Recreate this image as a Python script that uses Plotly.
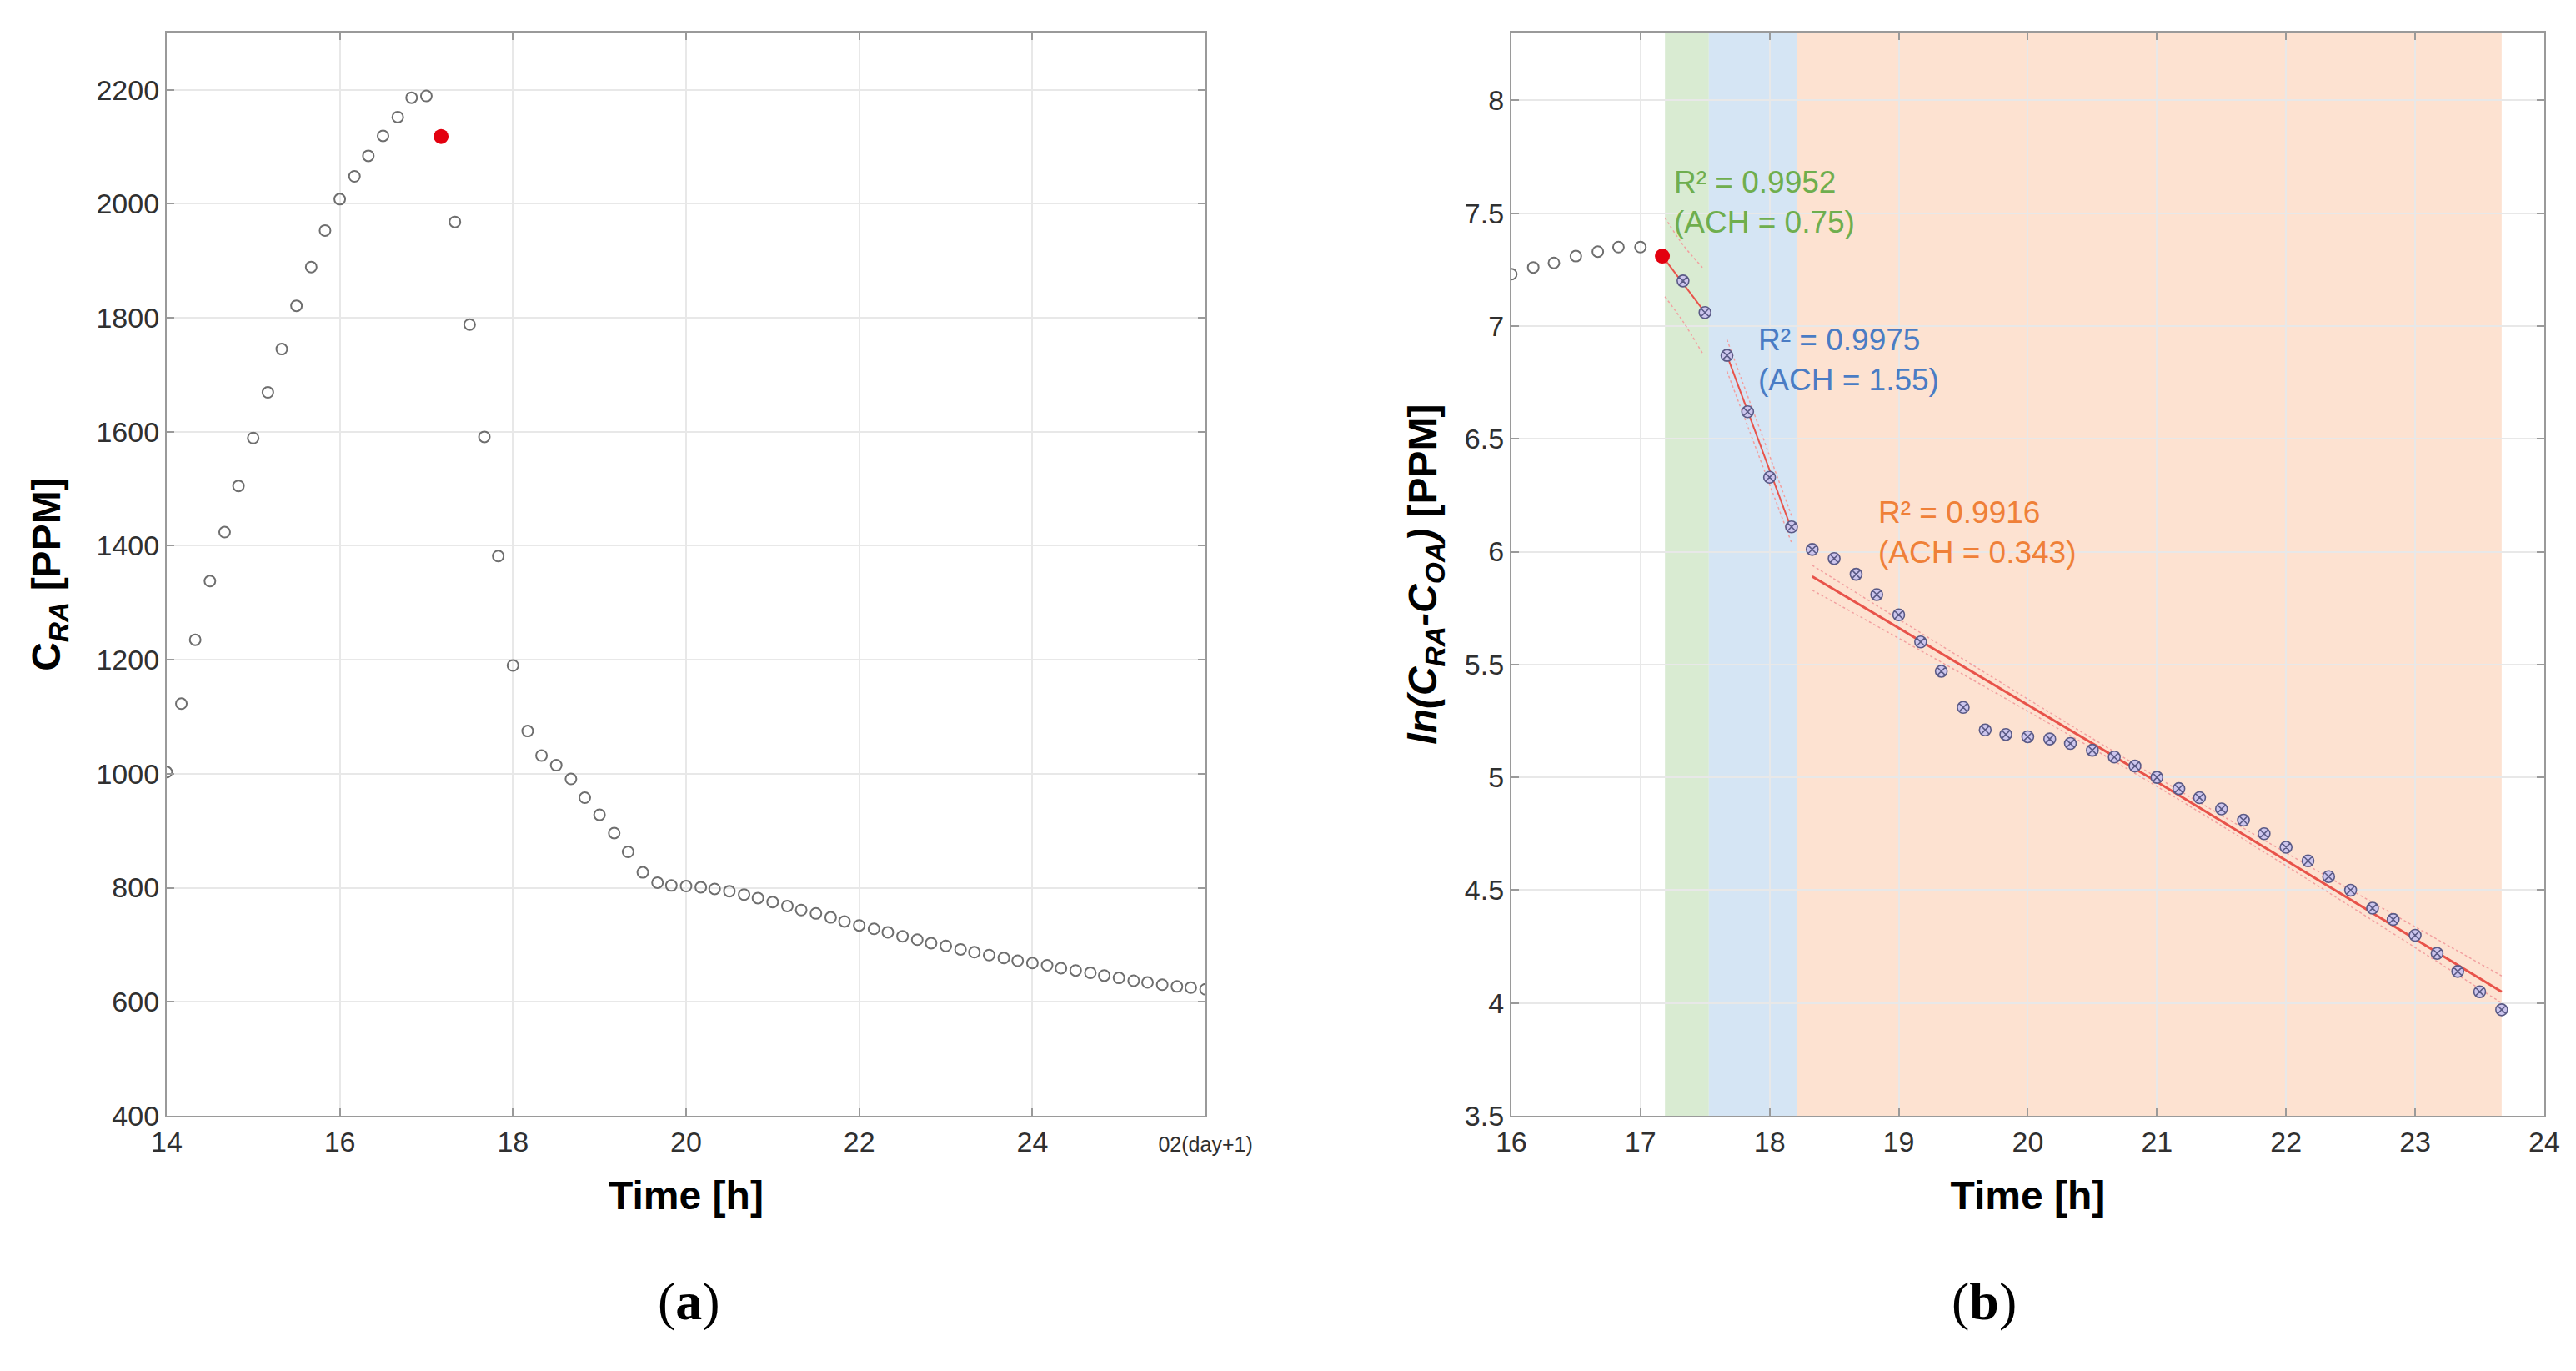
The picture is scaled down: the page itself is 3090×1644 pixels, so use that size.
import plotly.graph_objects as go

# ---- panel (a): indoor CO2 concentration ----
time_a = [14.0, 14.17, 14.33, 14.5, 14.67, 14.83, 15.0, 15.17, 15.33, 15.5, 15.67, 15.83,
          16.0, 16.17, 16.33, 16.5, 16.67, 16.83, 17.0, 17.17, 17.33, 17.5, 17.67, 17.83,
          18.0, 18.17, 18.33, 18.5, 18.67, 18.83, 19.0, 19.17, 19.33, 19.5, 19.67, 19.83,
          20.0, 20.17, 20.33, 20.5, 20.67, 20.83, 21.0, 21.17, 21.33, 21.5, 21.67, 21.83,
          22.0, 22.17, 22.33, 22.5, 22.67, 22.83, 23.0, 23.17, 23.33, 23.5, 23.67, 23.83,
          24.0, 24.17, 24.33, 24.5, 24.67, 24.83, 25.0, 25.17, 25.33, 25.5, 25.67, 25.83, 26.0]
c_ra = [1003, 1123, 1235, 1338, 1424, 1505, 1589, 1669, 1745, 1821, 1889, 1953,
        2008, 2048, 2084, 2119, 2152, 2186, 2189, 2118, 1968, 1788, 1591, 1382,
        1190, 1075, 1032, 1015, 991, 958, 928, 896, 863, 827, 809, 804,
        803, 801, 798, 794, 788, 782, 775, 768, 761, 755, 748, 741,
        734, 728, 722, 715, 709, 703, 698, 692, 687, 682, 677, 672,
        668, 664, 659, 655, 651, 646, 642, 637, 634, 630, 627, 625, 622]
peak_time = [17.17]
peak_c = [2118]
ticks_a = [14, 16, 18, 20, 22, 24, 26]
ticktext_a = ["14", "16", "18", "20", "22", "24",
              "<span style='font-size:25px'>02(day+1)</span>"]

# ---- panel (b): log decay ----
pre_time = [16.0, 16.17, 16.33, 16.5, 16.67, 16.83, 17.0]
pre_ln = [7.23, 7.26, 7.28, 7.31, 7.33, 7.35, 7.35]
start_ln = [7.31]
decay_time = [17.33, 17.5, 17.67, 17.83, 18.0, 18.17, 18.33, 18.5, 18.67, 18.83,
              19.0, 19.17, 19.33, 19.5, 19.67, 19.83, 20.0, 20.17, 20.33, 20.5,
              20.67, 20.83, 21.0, 21.17, 21.33, 21.5, 21.67, 21.83, 22.0, 22.17,
              22.33, 22.5, 22.67, 22.83, 23.0, 23.17, 23.33, 23.5, 23.67]
decay_ln = [7.20, 7.06, 6.87, 6.62, 6.33, 6.11, 6.01, 5.97, 5.90, 5.81,
            5.72, 5.60, 5.47, 5.31, 5.21, 5.19, 5.18, 5.17, 5.15, 5.12,
            5.09, 5.05, 5.00, 4.95, 4.91, 4.86, 4.81, 4.75, 4.69, 4.63,
            4.56, 4.50, 4.42, 4.37, 4.30, 4.22, 4.14, 4.05, 3.97]

# fitted lines and confidence bounds
fit1_x = [17.17, 17.5]
fit1_y = [7.31, 7.06]
fit1_x_b = [17.19, 17.33, 17.48]
fit1_up = [7.48, 7.36, 7.26]
fit1_lo = [7.13, 7.02, 6.88]
fit2_x = [17.67, 18.17]
fit2_y = [6.87, 6.10]
fit2_up = [6.94, 6.16]
fit2_lo = [6.80, 6.04]
fit3_x = [18.33, 21.0, 23.67]
fit3_y = [5.89, 4.98, 4.05]
fit3_up = [5.94, 5.00, 4.12]
fit3_lo = [5.83, 4.96, 4.00]

# shaded periods
periods = [(17.19, 17.53, "#d9ebd2"), (17.53, 18.21, "#d5e5f4"), (18.21, 23.67, "#fde2d1")]

labels = [(17.25, 7.55, "R² = 0.9952<br>(ACH = 0.75)", "#6fae4e"),
          (17.90, 6.85, "R² = 0.9975<br>(ACH = 1.55)", "#4a7cc4"),
          (18.83, 6.085, "R² = 0.9916<br>(ACH = 0.343)", "#ef8038")]

fig = go.Figure()

gray_circ = dict(symbol="circle-open", size=13, color="#6e6e6e", line=dict(width=2))

fig.add_trace(go.Scatter(x=time_a, y=c_ra, mode="markers", marker=gray_circ,
                         xaxis="x", yaxis="y", showlegend=False))
fig.add_trace(go.Scatter(x=peak_time, y=peak_c, mode="markers",
                         marker=dict(size=18, color="#e3000f"),
                         xaxis="x", yaxis="y", showlegend=False))

# confidence bounds
bound = dict(color="#f2a0a0", width=1.5, dash="dot")
for bx, up, lo in [(fit1_x_b, fit1_up, fit1_lo), (fit2_x, fit2_up, fit2_lo),
                   (fit3_x, fit3_up, fit3_lo)]:
    fig.add_trace(go.Scatter(x=bx, y=up, mode="lines", line=bound, line_shape="spline",
                             xaxis="x2", yaxis="y2", showlegend=False))
    fig.add_trace(go.Scatter(x=bx, y=lo, mode="lines", line=bound, line_shape="spline",
                             xaxis="x2", yaxis="y2", showlegend=False))

for fx, fy, w in [(fit1_x, fit1_y, 2), (fit2_x, fit2_y, 2), (fit3_x, fit3_y, 3)]:
    fig.add_trace(go.Scatter(x=fx, y=fy, mode="lines", line=dict(color="#e8534a", width=w),
                             xaxis="x2", yaxis="y2", showlegend=False))

fig.add_trace(go.Scatter(x=pre_time, y=pre_ln, mode="markers", marker=gray_circ,
                         xaxis="x2", yaxis="y2", showlegend=False))
fig.add_trace(go.Scatter(x=decay_time, y=decay_ln, mode="markers",
                         marker=dict(symbol="circle-x", size=14, color="#cdc6ee",
                                     line=dict(color="#5a5a86", width=1.6)),
                         xaxis="x2", yaxis="y2", showlegend=False))
fig.add_trace(go.Scatter(x=peak_time, y=start_ln, mode="markers",
                         marker=dict(size=18, color="#e3000f"),
                         xaxis="x2", yaxis="y2", showlegend=False))

shapes = []
for x0, x1, col in periods:
    shapes.append(dict(type="rect", xref="x2", yref="y2 domain", x0=x0, x1=x1, y0=0, y1=1,
                       fillcolor=col, line=dict(width=0), layer="below"))

annotations = []
for lx, ly, txt, col in labels:
    annotations.append(dict(x=lx, y=ly, xref="x2", yref="y2", text=txt, showarrow=False,
                            xanchor="left", yanchor="middle", align="left",
                            font=dict(size=37, color=col)))
annotations.append(dict(x=0.252, y=0.033, xref="paper", yref="paper", text="(<b>a</b>)",
                        showarrow=False, font=dict(size=64, family="Liberation Serif", color="black")))
annotations.append(dict(x=0.781, y=0.033, xref="paper", yref="paper", text="(<b>b</b>)",
                        showarrow=False, font=dict(size=64, family="Liberation Serif", color="black")))

axis_common = dict(showline=True, linecolor="#9a9a9a", linewidth=2, mirror="allticks",
                   ticks="inside", ticklen=9, tickcolor="#9a9a9a", tickwidth=2,
                   showgrid=True, gridcolor="#e8e8e8", gridwidth=1.5, zeroline=False,
                   automargin=False, tickfont=dict(size=34, color="#303030"))
title_font = dict(size=48, color="black")

fig.update_layout(
    width=3090, height=1644,
    margin=dict(l=0, r=0, t=0, b=0),
    paper_bgcolor="white", plot_bgcolor="white",
    font=dict(family="Liberation Sans, Arial, sans-serif"),
    xaxis=dict(domain=[0.0621, 0.4654], range=[14, 26], tickvals=ticks_a, ticktext=ticktext_a,
               title=dict(text="<b>Time [h]</b>", font=title_font, standoff=30),
               anchor="y", **axis_common),
    yaxis=dict(domain=[0.191, 0.981], range=[400, 2300], dtick=200,
               title=dict(text="<b>C<sub><i>RA</i></sub> [PPM]</b>", font=title_font, standoff=28),
               anchor="x", **axis_common),
    xaxis2=dict(domain=[0.5841, 0.9851], range=[16, 24], dtick=1,
                title=dict(text="<b>Time [h]</b>", font=title_font, standoff=30),
                anchor="y2", **axis_common),
    yaxis2=dict(domain=[0.191, 0.981], range=[3.5, 8.3], dtick=0.5,
                title=dict(text="<b><i>ln(C<sub>RA</sub>-C<sub>OA</sub>)</i> [PPM]</b>",
                           font=title_font, standoff=18),
                anchor="x2", **axis_common),
    shapes=shapes,
    annotations=annotations,
)

fig.write_html("out.html")
